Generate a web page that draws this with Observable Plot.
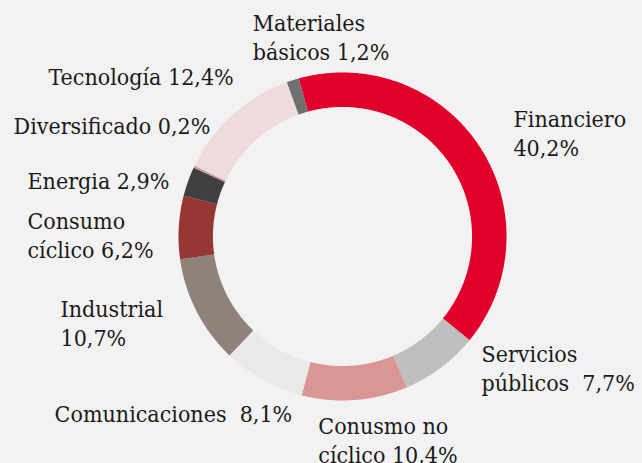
<!DOCTYPE html>
<html>
<head>
<meta charset="utf-8">
<script src="https://cdn.jsdelivr.net/npm/d3@7"></script>
<script src="https://cdn.jsdelivr.net/npm/@observablehq/plot@0.6"></script>
<style>
  html, body { margin: 0; padding: 0; background: #f2f2f2; }
  #chart svg { display: block; background: #f2f2f2; }
  #chart svg text { white-space: pre; }
</style>
</head>
<body>
<div id="chart"></div>
<script>
// ---- data ----
const sectors = ["Financiero", "Servicios públicos", "Conusmo no cíclico", "Comunicaciones", "Industrial", "Consumo cíclico", "Energia", "Diversificado", "Tecnología", "Materiales básicos"];
const shares = [40.2, 7.7, 10.4, 8.1, 10.7, 6.2, 2.9, 0.2, 12.4, 1.2];
const labelTexts = ["Financiero\n40,2%", "Servicios\npúblicos  7,7%", "Conusmo no\ncíclico 10,4%", "Comunicaciones  8,1%", "Industrial\n10,7%", "Consumo\ncíclico 6,2%", "Energia 2,9%", "Diversificado 0,2%", "Tecnología 12,4%", "Materiales\nbásicos 1,2%"];
const sectorColors = ["#e0002a", "#bfbfbf", "#d99694", "#e9e9e9", "#8f827b", "#953735", "#404040", "#c49aa2", "#eddcdb", "#6f6f6f"];

// ---- layout ----
const W = 642, H = 463, CX = 342, CY = 236, R = 164;
const innerRatio = 0.79;
const startDeg = -15.5;
// label offsets (px) from the outer edge at each slice's mid-angle
const labelDx = [33.6, 40.5, -36.6, -208.5, -136.1, -151.3, -160.5, -180.5, -183.9, -40];
const labelDy = [-15, -0.2, 39.5, 32.6, 10.5, 7.2, -2, -42.4, -39.5, -43.8];

const total = d3.sum(shares);
const rad = Math.PI / 180;
let acc = startDeg;
const slices = sectors.map((name, i) => {
  const a0 = acc, a1 = acc + shares[i] / total * 360;
  acc = a1;
  return {name, a0, a1, mid: (a0 + a1) / 2};
});

const arcPts = [];
for (const s of slices) {
  const n = Math.max(2, Math.ceil((s.a1 - s.a0) / 0.5));
  for (let k = 0; k <= n; k++) {
    const a = (s.a0 + (s.a1 - s.a0) * k / n) * rad;
    arcPts.push({name: s.name, x: Math.sin(a), y: Math.cos(a)});
  }
  for (let k = n; k >= 0; k--) {
    const a = (s.a0 + (s.a1 - s.a0) * k / n) * rad;
    arcPts.push({name: s.name, x: innerRatio * Math.sin(a), y: innerRatio * Math.cos(a)});
  }
}

const textMarks = slices.map((s, i) => Plot.text([{x: Math.sin(s.mid * rad), y: Math.cos(s.mid * rad), t: labelTexts[i]}], {
  x: "x", y: "y", text: "t",
  dx: labelDx[i], dy: labelDy[i],
  textAnchor: "start", lineAnchor: "middle", lineHeight: 1.26,
  fontSize: 23, fill: "#1a1a1a",
  fontFamily: "'DejaVu Serif Condensed', 'DejaVu Serif', serif"
}));

const chart = Plot.plot({
  width: W, height: H, margin: 0,
  style: {background: "#f2f2f2"},
  x: {domain: [-CX / R, (W - CX) / R], axis: null},
  y: {domain: [-(H - CY) / R, CY / R], axis: null},
  color: {domain: sectors, range: sectorColors},
  marks: [
    Plot.line(arcPts, {x: "x", y: "y", z: "name", fill: "name", stroke: null, curve: "linear"}),
    ...textMarks
  ]
});
document.getElementById("chart").appendChild(chart);
</script>
</body>
</html>
